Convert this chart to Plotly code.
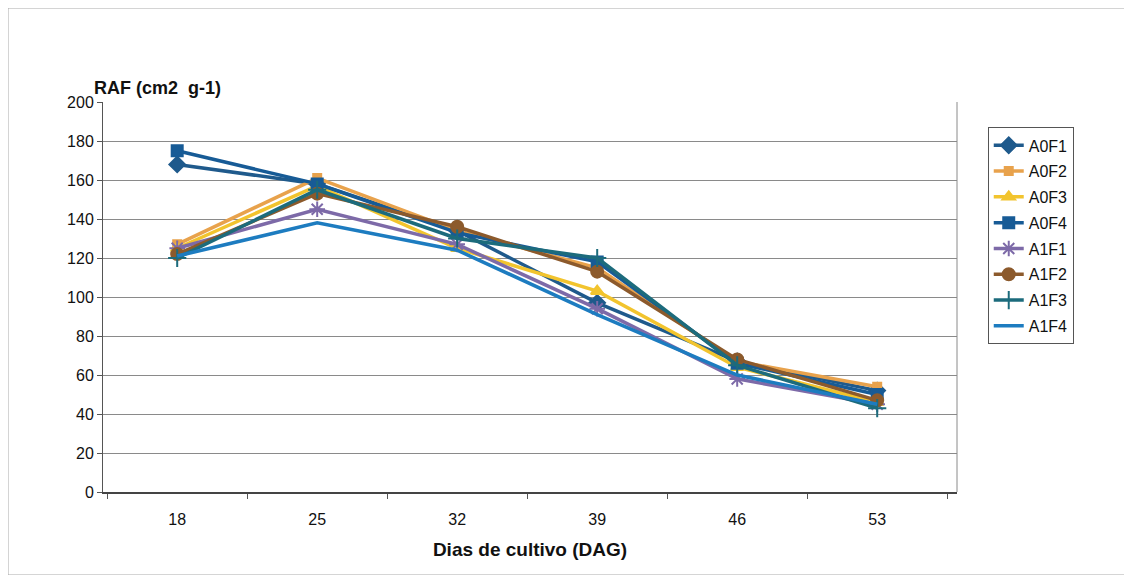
import plotly.graph_objects as go

dias = ["18", "25", "32", "39", "46", "53"]

a0f1 = [168, 158, 134, 97, 67, 52]
a0f2 = [127, 161, 134, 115, 67, 54]
a0f3 = [125, 157, 125, 103, 64, 46]
a0f4 = [175, 158, 133, 118, 66, 50]
a1f1 = [125, 145, 127, 94, 58, 45]
a1f2 = [122, 153, 136, 113, 68, 47]
a1f3 = [120, 155, 130, 120, 65, 43]
a1f4 = [121, 138, 124, 91, 60, 45]

series = [
    ("A0F1", a0f1, "#1f5a8c", "diamond", 12),
    ("A0F2", a0f2, "#e8a24c", "square", 8),
    ("A0F3", a0f3, "#f2c42e", "triangle-up", 11),
    ("A0F4", a0f4, "#175b96", "square", 11),
    ("A1F1", a1f1, "#7d6aa8", "asterisk-open", 13),
    ("A1F2", a1f2, "#8c5a2c", "circle", 12),
    ("A1F3", a1f3, "#1c6b7c", "cross-thin-open", 13),
    ("A1F4", a1f4, "#1d7cc0", None, 0),
]

fig = go.Figure()
for name, vals, color, symbol, size in series:
    if symbol is None:
        fig.add_trace(go.Scatter(x=dias, y=vals, name=name, mode="lines",
                                 legendgroup=name,
                                 line=dict(color=color, width=3.5)))
    else:
        fig.add_trace(go.Scatter(
            x=dias, y=vals, name=name, mode="lines+markers", legendgroup=name,
            line=dict(color=color, width=3.5),
            marker=dict(symbol=symbol, size=size, color=color,
                        line=dict(color=color, width=2)),
        ))

# page body has an 8px margin, so the figure is 8px smaller and offset
fig.update_layout(
    width=1124, height=567,
    margin=dict(l=95, r=175, t=94, b=83),
    paper_bgcolor="white", plot_bgcolor="white",
    font=dict(family="Liberation Sans, Arial", size=16, color="#111"),
    showlegend=True,
    legend=dict(x=1.036, y=0.935, xanchor="left", yanchor="top",
                bordercolor="#555", borderwidth=1, tracegroupgap=2,
                font=dict(size=16)),
    xaxis=dict(type="category", range=[-0.53, 5.57], tickson="boundaries",
               ticks="outside", ticklen=5,
               tickcolor="#555", showline=True, linecolor="#444", linewidth=1.5,
               showgrid=False, ticklabelstandoff=12, tickfont=dict(size=16),
               title=dict(text="<b>Dias de cultivo (DAG)</b>", standoff=16,
                          font=dict(size=19))),
    yaxis=dict(range=[0, 200], dtick=20, ticks="outside", ticklen=5, tickcolor="#555",
               showline=True, linecolor="#555", mirror=False, tickfont=dict(size=16),
               showgrid=True, gridcolor="#8a8a8a", gridwidth=1, zeroline=False),
    annotations=[dict(text="<b>RAF (cm2  g-1)</b>", xref="paper", yref="paper",
                      x=-0.013, y=1 + 14 / 390, xanchor="left", yanchor="middle",
                      showarrow=False, font=dict(size=18))],
    shapes=[
        dict(type="line", xref="paper", yref="paper", x0=1, x1=1, y0=0, y1=1,
             line=dict(color="#8a8a8a", width=1)),
        dict(type="rect", xref="paper", yref="paper",
             x0=-95 / 854, x1=1 + 168 / 854, y0=-83 / 390, y1=1 + 94 / 390,
             line=dict(color="#aaaaaa", width=1)),
    ],
)

fig.write_html("out.html")
